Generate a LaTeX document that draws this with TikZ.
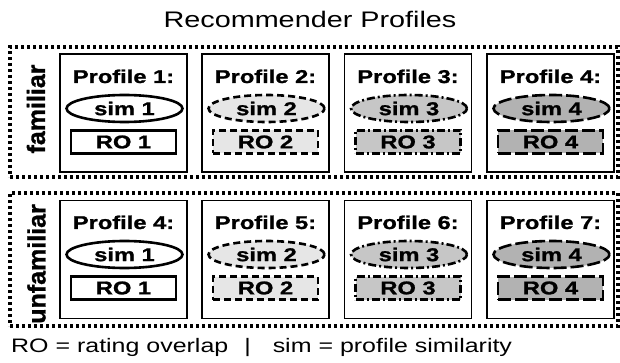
\documentclass[tikz,border=0pt]{standalone}
\usepackage{fontspec}
\setmainfont{Liberation Sans}[FakeStretch=1.28, BoldFeatures={FakeBold=1.2}]
\newfontfamily\rotfont{Liberation Sans}[BoldFeatures={FakeBold=1.2}]
\usetikzlibrary{shapes.geometric}
\definecolor{fillB}{HTML}{E6E6E6}
\definecolor{fillC}{HTML}{C6C6C6}
\definecolor{fillD}{HTML}{B2B2B2}
\tikzset{
  grpbox/.style={draw, line width=3.2pt, dash pattern=on 3pt off 3pt,
    minimum width=608pt, minimum height=130pt, inner sep=0pt},
  pbox/.style={draw, line width=1.6pt, minimum width=127pt, minimum height=118pt, inner sep=0pt},
  ptitle/.style={font=\bfseries\fontsize{18.5}{18.5}\selectfont, inner sep=0pt, anchor=base},
  simnode/.style={ellipse, draw, line width=2.6pt, minimum width=116pt, minimum height=27pt,
    inner sep=0pt, font=\bfseries\fontsize{18.5}{18.5}\selectfont},
  ronode/.style={rectangle, draw, line width=2.6pt, minimum width=105pt, minimum height=23pt,
    inner sep=0pt, font=\bfseries\fontsize{18.5}{18.5}\selectfont},
  styA/.style={solid, fill=white},
  styB/.style={dash pattern=on 7pt off 4pt, fill=fillB},
  styC/.style={dash pattern=on 8pt off 3pt on 2pt off 3pt, fill=fillC},
  styD/.style={dash pattern=on 13pt off 4pt, fill=fillD},
  grplabel/.style={rotate=90, inner sep=0pt, font=\rotfont\bfseries\fontsize{25}{25}\selectfont},
}
\begin{document}
\begin{tikzpicture}[x=1pt, y=-1pt]
\useasboundingbox (0,0) rectangle (620,363);
\fill[white] (0,0) rectangle (620,363);
\node[inner sep=0pt, anchor=base, font=\fontsize{22.5}{22.5}\selectfont] (title) at (310,28) {Recommender Profiles};
\node[grpbox] (famgrp) at (314,112) {};
\node[grpbox, minimum height=133pt] (unfgrp) at (314,259.5) {};
\node[grplabel] (famlab) at (36,109) {familiar};
\node[grplabel] (unflab) at (36.5,264) {unfamiliar};
\foreach \cx/\i/\s/\pa/\pb in {123.5/1/A/1/4, 265.5/2/B/2/5, 408/3/C/3/6, 550.5/4/D/4/7}{
  \node[pbox] (box1\i) at (\cx,113) {};
  \node[ptitle] (tit1\i) at (\cx,83) {Profile \pa:};
  \node[simnode, sty\s] (sim1\i) at (\cx+1,108.5) {sim \i};
  \node[ronode, sty\s] (ro1\i) at (\cx,142) {RO \i};
  \node[pbox] (box2\i) at (\cx,259.5) {};
  \node[ptitle] (tit2\i) at (\cx,229) {Profile \pb:};
  \node[simnode, sty\s] (sim2\i) at (\cx+1,254.5) {sim \i};
  \node[ronode, sty\s] (ro2\i) at (\cx,288) {RO \i};
}
\node[inner sep=0pt, anchor=base west, font=\fontsize{19.5}{19.5}\selectfont] (legend) at (11,352)
  {RO = rating overlap\hspace{16pt}|\hspace{22pt}sim = profile similarity};
\end{tikzpicture}
\end{document}
